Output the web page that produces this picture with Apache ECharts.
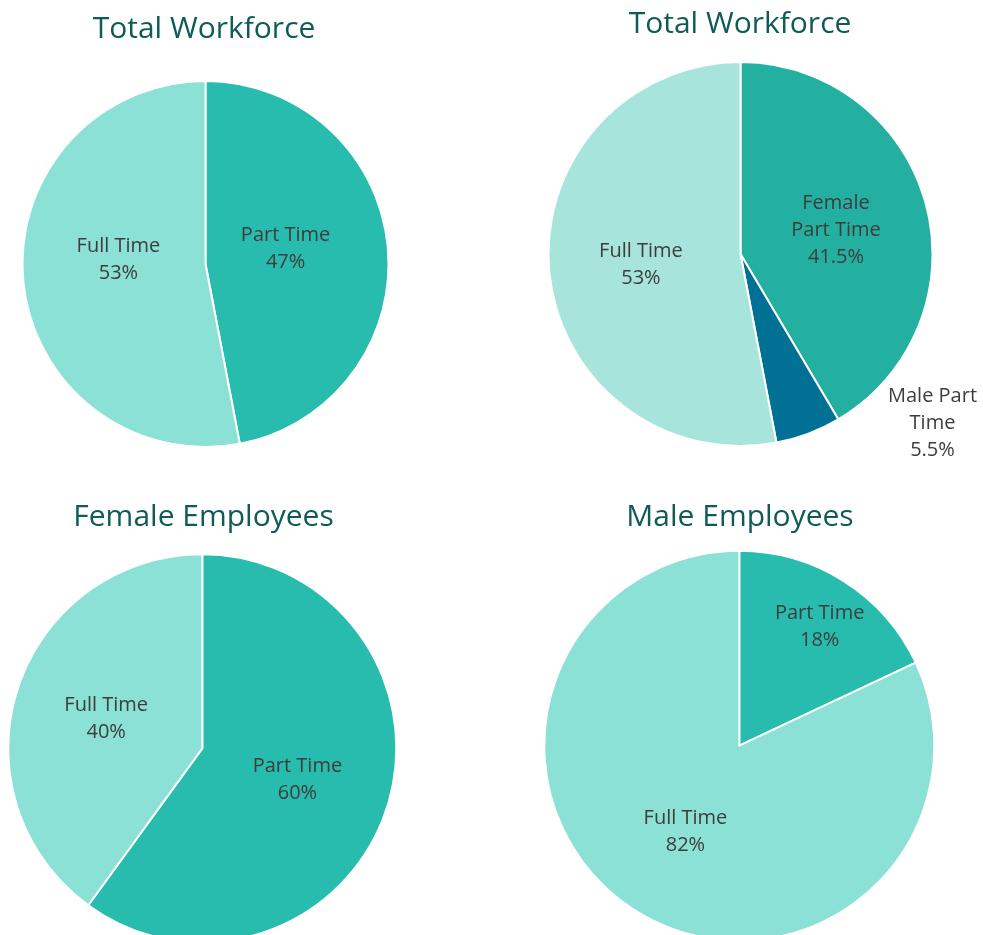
<!DOCTYPE html>
<html>
<head>
<meta charset="utf-8">
<script src="https://cdn.jsdelivr.net/npm/echarts@6/dist/echarts.min.js"></script>
<style>
  html, body { margin: 0; padding: 0; background: #ffffff; }
  #chart { width: 983px; height: 935px; }
</style>
</head>
<body>
<div id="chart"></div>
<script>
// ---- Data ----
var titles = ['Total Workforce', 'Total Workforce', 'Female Employees', 'Male Employees'];

var totalCategories = ['Part Time', 'Full Time'];
var totalValues = [47, 53];

var splitCategories = ['Female\nPart Time', 'Male Part\nTime', 'Full Time'];
var splitValues = [41.5, 5.5, 53];

var femaleCategories = ['Part Time', 'Full Time'];
var femaleValues = [60, 40];

var maleCategories = ['Part Time', 'Full Time'];
var maleValues = [18, 82];

// ---- Styling / layout ----
var FONT = '"Open Sans", "Noto Sans", sans-serif';
var TITLE_COLOR = '#0E5C55';
var LABEL_COLOR = '#3d3d3d';

var layouts = [
  { center: [205.5, 264], radius: 183, titleTop: 14, titleLeft: 204,
    colors: ['#27BCAE', '#8BE1D6'], offsets: [[-14, -6], [7, -13]] },
  { center: [740.5, 254], radius: 192, titleTop: 9, titleLeft: 740,
    colors: ['#23B0A1', '#007195', '#A7E5DC'], offsets: [[0, 2], [157, 77], [-1, 1]] },
  { center: [202.3, 748.3], radius: 194, titleTop: 502, titleLeft: 203.5,
    colors: ['#27BCAE', '#8BE1D6'], offsets: [[0, 1], [-1, 1]] },
  { center: [739.3, 745.7], radius: 195, titleTop: 502, titleLeft: 740,
    colors: ['#27BCAE', '#8BE1D6'], offsets: [[26.5, -34], [0, 1.5]] }
];

var seriesData = [
  [totalCategories, totalValues],
  [splitCategories, splitValues],
  [femaleCategories, femaleValues],
  [maleCategories, maleValues]
];

function buildData(cats, vals, lay) {
  return cats.map(function (c, i) {
    return {
      name: c,
      value: vals[i],
      itemStyle: { color: lay.colors[i] },
      label: { offset: lay.offsets[i] }
    };
  });
}

var option = {
  backgroundColor: '#ffffff',
  animation: false,
  title: layouts.map(function (lay, i) {
    return {
      text: titles[i],
      left: lay.titleLeft,
      top: lay.titleTop,
      padding: 0,
      textAlign: 'center',
      textStyle: {
        fontFamily: FONT,
        fontSize: 30,
        fontWeight: 'normal',
        color: TITLE_COLOR
      }
    };
  }),
  series: layouts.map(function (lay, i) {
    return {
      type: 'pie',
      center: lay.center,
      radius: [0, lay.radius],
      startAngle: 90,
      clockwise: true,
      avoidLabelOverlap: false,
      silent: true,
      itemStyle: { borderColor: '#ffffff', borderWidth: 2 },
      label: {
        show: true,
        position: 'inside',
        formatter: '{b}\n{c}%',
        fontFamily: FONT,
        fontSize: 20,
        lineHeight: 27,
        color: LABEL_COLOR,
        align: 'center',
        verticalAlign: 'middle'
      },
      labelLine: { show: false },
      data: buildData(seriesData[i][0], seriesData[i][1], lay)
    };
  })
};

var chart = echarts.init(document.getElementById('chart'), null, { renderer: 'canvas' });
chart.setOption(option);
</script>
</body>
</html>
